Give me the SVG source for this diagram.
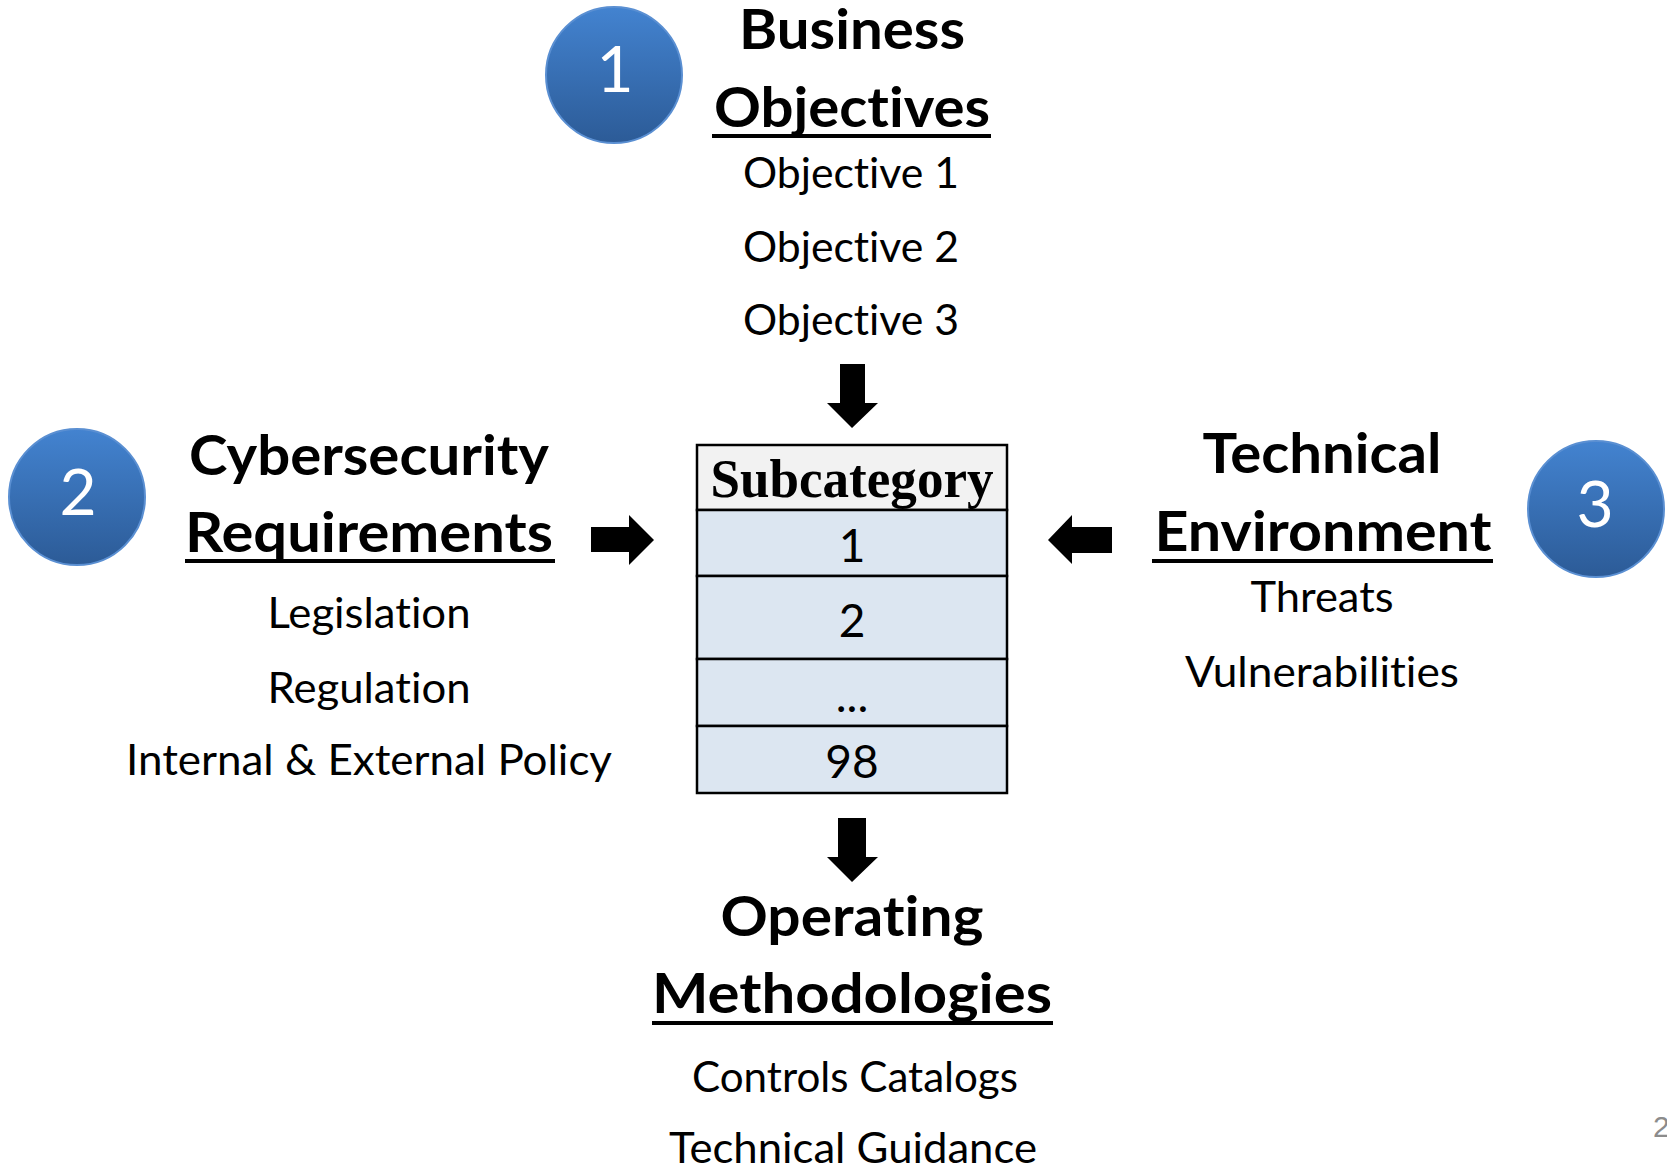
<svg xmlns="http://www.w3.org/2000/svg" width="1667" height="1167" viewBox="0 0 1667 1167">
<defs>
<linearGradient id="blue" x1="0" y1="0" x2="0" y2="1">
<stop offset="0" stop-color="#4383d0"/>
<stop offset="1" stop-color="#2c5b97"/>
</linearGradient>
<style>
text{font-variant-ligatures:none;font-feature-settings:"liga" 0}
.hd{font-family:Lato,"Liberation Sans",sans-serif;font-weight:bold;font-size:55px;fill:#000;text-anchor:middle}
.tx{font-family:Lato,"Liberation Sans",sans-serif;font-size:42px;fill:#000;text-anchor:middle}
.num{font-family:Lato,"Liberation Sans",sans-serif;font-size:64px;fill:#fff;text-anchor:middle}
.cell{font-family:Lato,"Liberation Sans",sans-serif;font-size:46px;fill:#000;text-anchor:middle}
.circ{fill:url(#blue);stroke:#5a8fd2;stroke-width:2}
.ul{fill:#000}
.row{fill:#dce6f1;stroke:#000;stroke-width:2.5}
.hdr{fill:#f2f2f2;stroke:#000;stroke-width:2.5}
.arr{fill:#000}
</style>
</defs>
<rect width="1667" height="1167" fill="#fff"/>

<g id="connectors">
<polygon class="arr" points="840,364 865,364 865,403 878,403 852,428 827,403 840,403"/>
<polygon class="arr" points="838,818 866,818 866,857 878,857 852,882 827,857 838,857"/>
<polygon class="arr" points="591,527 629,527 629,515 654,540 629,565 629,552 591,552"/>
<polygon class="arr" points="1112,527 1072,527 1072,515 1048,540 1072,564 1072,553 1112,553"/>
</g>

<g id="business-objectives">
<circle class="circ" cx="614" cy="75" r="68"/>
<text class="num" x="615" y="92">1</text>
<text class="hd" x="852" y="49" textLength="226" lengthAdjust="spacingAndGlyphs">Business</text>
<text class="hd" x="852" y="127" textLength="276" lengthAdjust="spacingAndGlyphs">Objectives</text>
<rect class="ul" x="712" y="134" width="279" height="4"/>
<text class="tx" x="851" y="188" textLength="216" lengthAdjust="spacingAndGlyphs">Objective 1</text>
<text class="tx" x="851" y="262" textLength="216" lengthAdjust="spacingAndGlyphs">Objective 2</text>
<text class="tx" x="851" y="335" textLength="216" lengthAdjust="spacingAndGlyphs">Objective 3</text>
</g>

<g id="cybersecurity-requirements">
<circle class="circ" cx="77" cy="497" r="68"/>
<text class="num" x="78" y="515">2</text>
<text class="hd" x="369" y="475" textLength="360" lengthAdjust="spacingAndGlyphs">Cybersecurity</text>
<text class="hd" x="369" y="552" textLength="368" lengthAdjust="spacingAndGlyphs">Requirements</text>
<rect class="ul" x="185" y="559" width="370" height="4"/>
<text class="tx" x="369" y="628" textLength="203" lengthAdjust="spacingAndGlyphs">Legislation</text>
<text class="tx" x="369" y="703" textLength="203" lengthAdjust="spacingAndGlyphs">Regulation</text>
<text class="tx" x="369" y="775" textLength="486" lengthAdjust="spacingAndGlyphs">Internal &amp; External Policy</text>
</g>

<g id="technical-environment">
<circle class="circ" cx="1596" cy="509" r="68"/>
<text class="num" x="1595" y="527">3</text>
<text class="hd" x="1322" y="473" textLength="239" lengthAdjust="spacingAndGlyphs">Technical</text>
<text class="hd" x="1323" y="551" textLength="337" lengthAdjust="spacingAndGlyphs">Environment</text>
<rect class="ul" x="1152" y="559" width="341" height="4"/>
<text class="tx" x="1322" y="612" textLength="143" lengthAdjust="spacingAndGlyphs">Threats</text>
<text class="tx" x="1322" y="687" textLength="274" lengthAdjust="spacingAndGlyphs">Vulnerabilities</text>
</g>

<g id="subcategory-table">
<rect class="hdr" x="697" y="445" width="310" height="65"/>
<rect class="row" x="697" y="510" width="310" height="66"/>
<rect class="row" x="697" y="576" width="310" height="83"/>
<rect class="row" x="697" y="659" width="310" height="67"/>
<rect class="row" x="697" y="726" width="310" height="67"/>
<text x="852" y="497" font-family="'Liberation Serif','Times New Roman',serif" font-weight="bold" font-size="54" text-anchor="middle" textLength="283" lengthAdjust="spacingAndGlyphs">Subcategory</text>
<text class="cell" x="852" y="562">1</text>
<text class="cell" x="852" y="637">2</text>
<text class="cell" x="852" y="712">...</text>
<text class="cell" x="852" y="778">98</text>
</g>

<g id="operating-methodologies">
<text class="hd" x="852" y="936" textLength="263" lengthAdjust="spacingAndGlyphs">Operating</text>
<text class="hd" x="852" y="1013" textLength="400" lengthAdjust="spacingAndGlyphs">Methodologies</text>
<rect class="ul" x="652" y="1021" width="401" height="4"/>
<text class="tx" x="855" y="1092" textLength="326" lengthAdjust="spacingAndGlyphs">Controls Catalogs</text>
<text class="tx" x="853" y="1163" textLength="368" lengthAdjust="spacingAndGlyphs">Technical Guidance</text>
</g>

<text x="1653" y="1137" font-family="'Liberation Sans',Arial,sans-serif" font-size="30" fill="#8c8c8c">2</text>
</svg>
